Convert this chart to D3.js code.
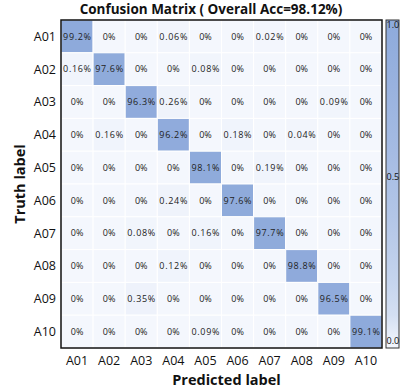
<!DOCTYPE html>
<html lang="en">
<head>
<meta charset="utf-8">
<title>Confusion Matrix</title>
<script src="https://cdn.jsdelivr.net/npm/d3@7"></script>
<style>
  body { margin: 0; background: #fff; }
  text { font-family: "Open Sans", "Noto Sans", sans-serif; fill: #111; }
  .tick-lbl { font-size: 12.5px; }
  .cell-lbl { font-size: 9px; fill: #222; }
  .ax-title { font-size: 14.5px; font-weight: bold; }
  .title { font-size: 13.5px; font-weight: bold; }
  .cb-lbl { font-size: 9px; }
</style>
</head>
<body>
<script>
// class labels
var classes = ["A01", "A02", "A03", "A04", "A05", "A06", "A07", "A08", "A09", "A10"];

// each row = truth label, columns = predicted label (percent)
var rowA01 = [99.2, 0, 0, 0.06, 0, 0, 0.02, 0, 0, 0];
var rowA02 = [0.16, 97.6, 0, 0, 0.08, 0, 0, 0, 0, 0];
var rowA03 = [0, 0, 96.3, 0.26, 0, 0, 0, 0, 0.09, 0];
var rowA04 = [0, 0.16, 0, 96.2, 0, 0.18, 0, 0.04, 0, 0];
var rowA05 = [0, 0, 0, 0, 98.1, 0, 0.19, 0, 0, 0];
var rowA06 = [0, 0, 0, 0.24, 0, 97.6, 0, 0, 0, 0];
var rowA07 = [0, 0, 0.08, 0, 0.16, 0, 97.7, 0, 0, 0];
var rowA08 = [0, 0, 0, 0.12, 0, 0, 0, 98.8, 0, 0];
var rowA09 = [0, 0, 0.35, 0, 0, 0, 0, 0, 96.5, 0];
var rowA10 = [0, 0, 0, 0, 0.09, 0, 0, 0, 0, 99.1];
var rows = [rowA01, rowA02, rowA03, rowA04, rowA05, rowA06, rowA07, rowA08, rowA09, rowA10];

var colorbarTicks = [0, 0.5, 1];

var w = 410, h = 391;
var mLeft = 61, mRight = 382, mTop = 20, mBottom = 348;

var svg = d3.select("body").append("svg")
  .attr("width", w)
  .attr("height", h);

var x = d3.scaleBand().domain(classes).range([mLeft, mRight]);
var y = d3.scaleBand().domain(classes).range([mTop, mBottom]);

var color = d3.scaleSqrt()
  .domain([0, 1])
  .range(["#f4f7fd", "#8eaadb"]);

var cells = [];
rows.forEach(function(r, i) {
  r.forEach(function(v, j) {
    cells.push({ truth: classes[i], pred: classes[j], v: v });
  });
});

// cells
svg.append("g").selectAll("rect")
  .data(cells)
  .enter()
  .append("rect")
  .attr("x", function(d) { return x(d.pred); })
  .attr("y", function(d) { return y(d.truth); })
  .attr("width", x.bandwidth())
  .attr("height", y.bandwidth())
  .attr("fill", function(d) { return color(d.v / 100); })
  .attr("stroke", "#fff")
  .attr("stroke-width", 1);

svg.append("g").selectAll("text")
  .data(cells)
  .enter()
  .append("text")
  .attr("class", "cell-lbl")
  .attr("x", function(d) { return x(d.pred) + x.bandwidth() / 2; })
  .attr("y", function(d) { return y(d.truth) + y.bandwidth() / 2; })
  .attr("text-anchor", "middle")
  .attr("dy", "0.35em")
  .attr("textLength", function(d) { return d.v >= 10 || String(d.v).length > 3 ? 28 : null; })
  .text(function(d) { return d.v + "%"; });

// matrix frame
svg.append("rect")
  .attr("x", mLeft).attr("y", mTop)
  .attr("width", mRight - mLeft).attr("height", mBottom - mTop)
  .attr("fill", "none")
  .attr("stroke", "#111")
  .attr("stroke-width", 1.5);

// axes labels
svg.append("g").selectAll("text")
  .data(classes)
  .enter()
  .append("text")
  .attr("class", "tick-lbl")
  .attr("x", mLeft - 5)
  .attr("y", function(d) { return y(d) + y.bandwidth() / 2; })
  .attr("dy", "0.35em")
  .attr("text-anchor", "end")
  .text(function(d) { return d; });

svg.append("g").selectAll("text")
  .data(classes)
  .enter()
  .append("text")
  .attr("class", "tick-lbl")
  .attr("x", function(d) { return x(d) + x.bandwidth() / 2; })
  .attr("y", mBottom + 17)
  .attr("text-anchor", "middle")
  .text(function(d) { return d; });

svg.append("text")
  .attr("class", "ax-title")
  .attr("x", (mLeft + mRight) / 2 + 5)
  .attr("y", mBottom + 37)
  .attr("text-anchor", "middle")
  .text("Predicted label");

svg.append("text")
  .attr("class", "ax-title")
  .attr("transform", "translate(25," + ((mTop + mBottom) / 2) + ") rotate(-90)")
  .attr("text-anchor", "middle")
  .text("Truth label");

svg.append("text")
  .attr("class", "title")
  .attr("x", 211)
  .attr("y", 14)
  .attr("text-anchor", "middle")
  .text("Confusion Matrix  ( Overall Acc=98.12%)");

// colorbar
var cbX = 386, cbW = 13;
var cbY = d3.scaleLinear().domain([0, 1]).range([mBottom, mTop]);

var grad = svg.append("defs").append("linearGradient")
  .attr("id", "cb-grad")
  .attr("x1", "0").attr("y1", "1")
  .attr("x2", "0").attr("y2", "0");
d3.range(0, 1.01, 0.1).forEach(function(t) {
  grad.append("stop")
    .attr("offset", t)
    .attr("stop-color", color(t));
});

svg.append("rect")
  .attr("x", cbX).attr("y", cbY(1))
  .attr("width", cbW).attr("height", cbY(0) - cbY(1))
  .attr("fill", "url(#cb-grad)")
  .attr("stroke", "#333")
  .attr("stroke-width", 1);

svg.append("g").selectAll("text")
  .data(colorbarTicks)
  .enter()
  .append("text")
  .attr("class", "cb-lbl")
  .attr("x", cbX + 0.5)
  .attr("y", function(d) { return d === 1 ? cbY(d) + 8 : cbY(d) - 4; })
  .text(function(d) { return d.toFixed(1); });
</script>
</body>
</html>
